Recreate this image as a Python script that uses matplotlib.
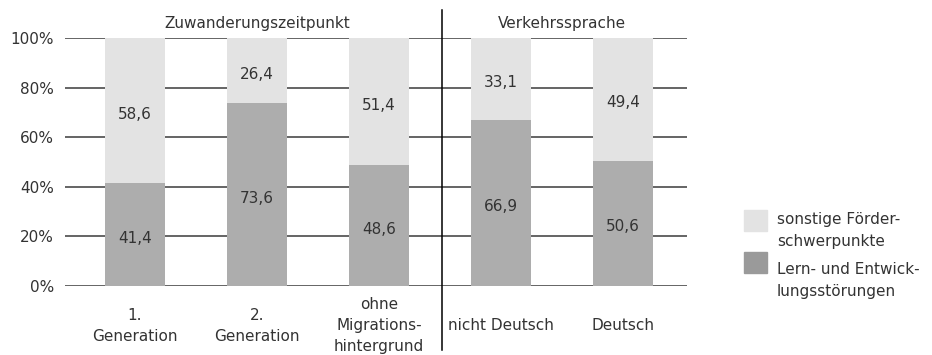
import matplotlib
matplotlib.use("Agg")
from matplotlib import pyplot as plt
from matplotlib.patches import Rectangle
import numpy as np

# data
categories = ["1.\nGeneration", "2.\nGeneration", "ohne\nMigrations-\nhintergrund",
              "nicht Deutsch", "Deutsch"]
lern = [41.4, 73.6, 48.6, 66.9, 50.6]
sonstige = [58.6, 26.4, 51.4, 33.1, 49.4]
lern_labels = ["41,4", "73,6", "48,6", "66,9", "50,6"]
sonstige_labels = ["58,6", "26,4", "51,4", "33,1", "49,4"]
groups = ["Zuwanderungszeitpunkt", "Verkehrssprache"]
group_centers = [1, 3.5]
legend_labels = ["sonstige Förder-\nschwerpunkte", "Lern- und Entwick-\nlungsstörungen"]

plt.rcParams['font.family'] = ['DejaVu Sans']
txt = "#333333"
light = "#e3e3e3"
dark = "#adadad"
fs = 11

W, H = 932, 355
fig = plt.figure(figsize=(W / 100, H / 100), dpi=100)
# plot area in pixels: x 65..687, y 38..286 (from top)
ax = fig.add_axes([65 / W, (H - 286) / H, (687 - 65) / W, (286 - 38) / H])

x = np.arange(len(categories))
ax.bar(x, lern, width=0.49, color=dark, zorder=3)
ax.bar(x, sonstige, bottom=lern, width=0.49, color=light, zorder=3)

for i in range(len(x)):
    ax.text(x[i], lern[i] / 2 - 1.5, lern_labels[i], ha="center", va="center",
            fontsize=fs, color=txt, zorder=4)
    ax.text(x[i], lern[i] + sonstige[i] / 2 - 1.5, sonstige_labels[i], ha="center",
            va="center", fontsize=fs, color=txt, zorder=4)

for yv in range(0, 101, 20):
    ax.axhline(yv, color="#4a4a4a", lw=1.2, zorder=1)

ax.set_xlim(-0.574, 4.525)
ax.set_ylim(0, 100)
for s in ax.spines.values():
    s.set_visible(False)
ax.set_xticks([])
ax.set_yticks(range(0, 101, 20))
ax.set_yticklabels([f"{v}%" for v in range(0, 101, 20)], fontsize=fs, color=txt)
ax.tick_params(axis="y", length=0, pad=8)

# category labels, vertically centered under the axis
for i, c in enumerate(categories):
    ax.text(x[i], -0.16, c, transform=ax.get_xaxis_transform(), ha="center",
            va="center", fontsize=fs, color=txt, linespacing=1.5)

# group headers and divider
for g, c in zip(groups, group_centers):
    ax.text(c, 1.06, g, transform=ax.get_xaxis_transform(), ha="center",
            va="center", fontsize=fs, color=txt)
ax.plot([2.52, 2.52], [-0.258, 1.113], transform=ax.get_xaxis_transform(),
        color="black", lw=1.1, clip_on=False, zorder=5)

# legend
for (y0, ty, col, lab) in [(210, 212, light, legend_labels[0]),
                           (252, 262, "#9a9a9a", legend_labels[1])]:
    fig.patches.append(Rectangle((744 / W, (H - y0 - 21) / H), 23 / W, 21 / H,
                                 transform=fig.transFigure, color=col))
    fig.text(777 / W, (H - ty) / H, lab, ha="left", va="top", fontsize=fs,
             color=txt, linespacing=1.55)

fig.savefig("out.png", dpi=100)
